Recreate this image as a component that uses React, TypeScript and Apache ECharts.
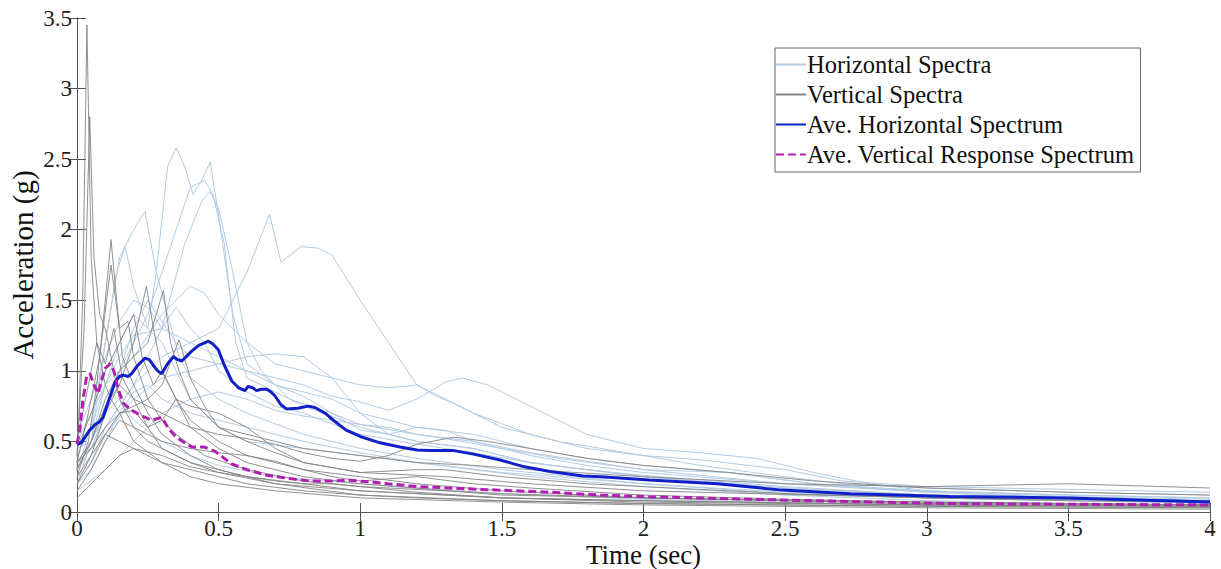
import React, { useEffect, useRef } from "react";
import * as echarts from "echarts";

// x tick values
const xTicks = [0, 0.5, 1, 1.5, 2, 2.5, 3, 3.5, 4];
const yTicks = [0, 0.5, 1, 1.5, 2, 2.5, 3, 3.5];

const legendNames = [
  "Horizontal Spectra",
  "Vertical Spectra",
  "Ave. Horizontal Spectrum",
  "Ave. Vertical Response Spectrum",
];

// Horizontal spectra [period, acceleration]
const hA = [[0,0.3],[0.05,0.5],[0.1,0.9],[0.15,1.2],[0.2,1.4],[0.25,1.3],[0.28,1.7],[0.32,2.45],[0.35,2.58],[0.38,2.45],[0.41,2.25],[0.44,2.35],[0.47,2.48],[0.5,2.1],[0.55,1.4],[0.6,1.05],[0.7,0.9],[0.8,0.85],[0.9,0.8],[1.0,0.7],[1.2,0.6],[1.4,0.55],[1.6,0.45],[1.8,0.38],[2.0,0.33],[2.3,0.28],[2.6,0.2],[3.0,0.15],[3.5,0.12],[4,0.1]];
const hB = [[0,0.35],[0.05,0.45],[0.1,0.7],[0.15,1.0],[0.2,1.2],[0.25,1.4],[0.3,1.7],[0.35,2.0],[0.4,2.3],[0.45,2.35],[0.48,2.25],[0.52,1.9],[0.56,1.2],[0.6,0.95],[0.7,0.85],[0.8,0.75],[1.0,0.6],[1.2,0.5],[1.4,0.45],[1.6,0.35],[2.0,0.25],[2.5,0.17],[3.0,0.12],[3.5,0.09],[4,0.07]];
const hC = [[0,0.25],[0.05,0.35],[0.1,0.6],[0.2,0.9],[0.3,1.3],[0.38,1.9],[0.44,2.2],[0.47,2.27],[0.5,2.15],[0.55,1.7],[0.6,1.2],[0.65,1.0],[0.75,0.8],[0.9,0.7],[1.0,0.62],[1.2,0.55],[1.4,0.5],[1.6,0.42],[1.8,0.36],[2.0,0.3],[2.5,0.2],[3.0,0.14],[3.5,0.1],[4,0.08]];
const hD = [[0,0.4],[0.05,0.6],[0.1,0.9],[0.15,1.1],[0.2,1.25],[0.3,1.3],[0.4,1.2],[0.5,1.3],[0.55,1.5],[0.6,1.7],[0.68,2.11],[0.72,1.77],[0.79,1.88],[0.85,1.87],[0.9,1.82],[1.0,1.5],[1.1,1.2],[1.2,0.9],[1.26,0.83],[1.35,0.75],[1.5,0.6],[1.7,0.5],[2.0,0.4],[2.2,0.33],[2.5,0.25],[2.7,0.2],[3.0,0.17],[3.5,0.14],[4,0.12]];
const hE = [[0,0.3],[0.05,0.6],[0.1,1.2],[0.15,1.8],[0.2,2.0],[0.24,2.13],[0.28,1.7],[0.32,1.4],[0.36,1.1],[0.4,0.95],[0.5,0.8],[0.6,0.7],[0.8,0.55],[1.0,0.45],[1.2,0.38],[1.5,0.3],[2.0,0.2],[2.5,0.13],[3.0,0.1],[3.5,0.08],[4,0.06]];
const hF = [[0,0.2],[0.05,0.5],[0.1,1.2],[0.14,1.7],[0.17,1.88],[0.2,1.6],[0.25,1.3],[0.3,1.2],[0.35,1.0],[0.4,0.8],[0.5,0.6],[0.6,0.5],[0.8,0.45],[1.0,0.4],[1.2,0.35],[1.5,0.28],[2.0,0.2],[2.5,0.14],[3.0,0.1],[3.5,0.08],[4,0.07]];
const hG = [[0,0.5],[0.05,0.7],[0.1,0.9],[0.2,1.1],[0.3,1.4],[0.4,1.6],[0.45,1.55],[0.5,1.4],[0.6,1.2],[0.7,1.05],[0.8,1.0],[0.9,0.95],[1.0,0.9],[1.1,0.88],[1.2,0.9],[1.3,0.8],[1.4,0.7],[1.6,0.55],[1.8,0.45],[2.0,0.4],[2.2,0.37],[2.5,0.3],[2.7,0.22],[3.0,0.18],[3.5,0.16],[4,0.14]];
const hH = [[0,0.3],[0.1,0.6],[0.2,0.9],[0.3,1.1],[0.4,1.2],[0.5,1.1],[0.6,1.0],[0.7,0.95],[0.8,0.9],[0.9,0.82],[1.0,0.78],[1.1,0.72],[1.2,0.8],[1.3,0.92],[1.36,0.95],[1.45,0.9],[1.6,0.75],[1.8,0.55],[2.0,0.45],[2.2,0.42],[2.4,0.38],[2.6,0.28],[2.8,0.2],[3.0,0.15],[3.5,0.12],[4,0.1]];
const hI = [[0,0.45],[0.05,0.5],[0.1,0.7],[0.15,1.0],[0.2,1.3],[0.25,1.5],[0.3,1.35],[0.35,1.2],[0.4,1.1],[0.5,1.05],[0.6,1.0],[0.7,0.9],[0.8,0.82],[0.9,0.7],[1.0,0.58],[1.1,0.55],[1.2,0.6],[1.3,0.58],[1.4,0.5],[1.6,0.4],[1.8,0.33],[2.0,0.28],[2.5,0.2],[3.0,0.15],[3.5,0.11],[4,0.09]];
const hJ = [[0,0.2],[0.05,0.3],[0.1,0.5],[0.15,0.7],[0.2,0.85],[0.25,0.9],[0.3,0.8],[0.4,0.7],[0.5,0.65],[0.6,0.6],[0.7,0.55],[0.8,0.5],[1.0,0.42],[1.2,0.35],[1.4,0.3],[1.6,0.25],[2.0,0.18],[2.5,0.12],[3.0,0.08],[3.5,0.06],[4,0.05]];
const hK = [[0,0.35],[0.1,0.55],[0.2,0.8],[0.3,0.95],[0.4,1.0],[0.5,1.05],[0.6,1.1],[0.7,1.12],[0.8,1.1],[0.9,0.95],[1.0,0.7],[1.1,0.55],[1.2,0.5],[1.4,0.45],[1.6,0.35],[1.8,0.3],[2.0,0.26],[2.5,0.18],[3.0,0.12],[3.5,0.1],[4,0.08]];
const hL = [[0,0.15],[0.1,0.3],[0.2,0.5],[0.3,0.7],[0.4,0.8],[0.5,0.85],[0.6,0.8],[0.7,0.72],[0.8,0.68],[0.9,0.65],[1.0,0.62],[1.1,0.6],[1.2,0.55],[1.3,0.52],[1.5,0.45],[1.7,0.38],[2.0,0.3],[2.3,0.28],[2.6,0.2],[3.0,0.14],[3.5,0.1],[4,0.08]];
const hM = [[0,0.3],[0.05,0.45],[0.1,0.7],[0.15,0.8],[0.2,0.65],[0.3,0.5],[0.4,0.4],[0.5,0.33],[0.7,0.25],[1.0,0.2],[1.5,0.13],[2.0,0.09],[3.0,0.05],[4,0.04]];
const hN = [[0,0.55],[0.05,0.8],[0.1,1.1],[0.15,1.35],[0.2,1.5],[0.25,1.45],[0.3,1.3],[0.35,1.45],[0.4,1.3],[0.45,1.2],[0.5,1.0],[0.6,0.85],[0.7,0.75],[0.8,0.7],[1.0,0.55],[1.2,0.48],[1.4,0.42],[1.6,0.35],[2.0,0.25],[2.5,0.17],[3.0,0.12],[3.5,0.1],[4,0.08]];

// Vertical spectra
const vA = [[0,0.3],[0.02,1.5],[0.035,3.45],[0.05,1.8],[0.07,1.2],[0.1,0.9],[0.12,0.8],[0.15,0.7],[0.2,0.5],[0.3,0.35],[0.4,0.25],[0.5,0.2],[0.7,0.15],[1.0,0.1],[1.5,0.07],[2.0,0.05],[3.0,0.03],[4,0.02]];
const vB = [[0,0.4],[0.025,1.3],[0.045,2.8],[0.06,1.8],[0.08,1.4],[0.1,1.3],[0.12,1.1],[0.15,0.8],[0.2,0.6],[0.25,0.5],[0.3,0.45],[0.4,0.35],[0.5,0.28],[0.7,0.2],[1.0,0.15],[1.5,0.1],[2.0,0.08],[3.0,0.05],[4,0.04]];
const vC = [[0,0.25],[0.04,0.5],[0.07,0.9],[0.1,1.5],[0.12,1.93],[0.14,1.5],[0.16,1.1],[0.2,0.9],[0.25,0.7],[0.3,0.55],[0.4,0.4],[0.5,0.3],[0.7,0.2],[1.0,0.12],[1.5,0.08],[2.0,0.06],[3.0,0.04],[4,0.03]];
const vD = [[0,0.35],[0.04,0.7],[0.08,1.1],[0.12,1.75],[0.15,1.3],[0.18,1.35],[0.2,1.1],[0.25,0.8],[0.3,0.65],[0.35,0.55],[0.45,0.4],[0.6,0.3],[0.8,0.22],[1.0,0.18],[1.5,0.13],[2.0,0.1],[3.0,0.06],[4,0.05]];
const vE = [[0,0.2],[0.05,0.4],[0.1,0.7],[0.15,0.9],[0.2,1.2],[0.245,1.6],[0.27,1.3],[0.3,1.0],[0.35,0.8],[0.4,0.65],[0.5,0.5],[0.6,0.4],[0.8,0.3],[1.0,0.25],[1.2,0.2],[1.5,0.15],[2.0,0.1],[3.0,0.06],[4,0.05]];
const vF = [[0,0.3],[0.05,0.5],[0.1,0.8],[0.15,1.0],[0.2,1.1],[0.25,1.2],[0.305,1.57],[0.33,1.2],[0.36,1.0],[0.4,0.8],[0.5,0.6],[0.6,0.5],[0.7,0.42],[0.8,0.35],[1.0,0.28],[1.3,0.25],[1.6,0.2],[2.0,0.15],[3.0,0.1],[4,0.08]];
const vG = [[0,0.45],[0.05,0.7],[0.1,1.0],[0.15,1.2],[0.2,1.4],[0.23,1.1],[0.27,0.9],[0.3,1.0],[0.35,0.8],[0.4,0.6],[0.5,0.45],[0.6,0.35],[0.8,0.25],[1.0,0.2],[1.5,0.12],[2.0,0.1],[3.0,0.07],[4,0.05]];
const vH = [[0,0.2],[0.05,0.35],[0.1,0.55],[0.15,0.7],[0.2,0.75],[0.25,0.8],[0.3,0.9],[0.36,1.22],[0.4,0.95],[0.45,0.75],[0.5,0.6],[0.6,0.55],[0.7,0.5],[0.8,0.45],[1.0,0.4],[1.2,0.35],[1.4,0.33],[1.6,0.3],[2.0,0.25],[2.5,0.2],[3.0,0.18],[3.5,0.2],[4,0.17]];
const vI = [[0,0.35],[0.05,0.5],[0.1,0.75],[0.15,0.9],[0.2,0.8],[0.3,0.7],[0.4,0.6],[0.5,0.55],[0.6,0.52],[0.7,0.48],[0.8,0.42],[0.9,0.38],[1.0,0.36],[1.1,0.4],[1.2,0.48],[1.33,0.53],[1.45,0.5],[1.6,0.45],[1.8,0.38],[2.0,0.33],[2.3,0.28],[2.6,0.22],[3.0,0.17],[3.5,0.14],[4,0.12]];
const vJ = [[0,0.15],[0.05,0.3],[0.1,0.5],[0.15,0.65],[0.2,0.6],[0.3,0.5],[0.4,0.45],[0.5,0.42],[0.6,0.4],[0.7,0.36],[0.8,0.3],[0.9,0.25],[1.0,0.22],[1.2,0.25],[1.4,0.2],[1.6,0.17],[2.0,0.12],[2.5,0.09],[3.0,0.07],[4,0.05]];
const vK = [[0,0.25],[0.05,0.4],[0.1,0.55],[0.15,0.5],[0.2,0.45],[0.3,0.35],[0.4,0.3],[0.5,0.25],[0.6,0.2],[0.8,0.15],[1.0,0.12],[1.2,0.1],[1.5,0.08],[2.0,0.06],[3.0,0.04],[4,0.03]];
const vL = [[0,0.1],[0.05,0.2],[0.1,0.3],[0.15,0.4],[0.2,0.45],[0.3,0.4],[0.4,0.32],[0.5,0.28],[0.6,0.25],[0.7,0.22],[0.8,0.2],[0.9,0.2],[1.0,0.18],[1.2,0.14],[1.5,0.1],[2.0,0.07],[3.0,0.05],[4,0.04]];
const vM = [[0,0.35],[0.05,0.45],[0.1,0.6],[0.15,0.7],[0.2,0.72],[0.25,0.6],[0.3,0.65],[0.35,0.8],[0.4,0.75],[0.5,0.7],[0.6,0.6],[0.7,0.45],[0.8,0.35],[1.0,0.28],[1.2,0.3],[1.3,0.3],[1.5,0.25],[1.8,0.2],[2.0,0.18],[2.5,0.13],[3.0,0.1],[3.5,0.08],[4,0.07]];
const vN = [[0,0.5],[0.04,0.9],[0.07,1.2],[0.1,1.05],[0.13,1.3],[0.16,0.95],[0.2,0.8],[0.25,0.6],[0.3,0.45],[0.4,0.35],[0.5,0.3],[0.6,0.25],[0.8,0.2],[1.0,0.15],[1.5,0.1],[2.0,0.08],[3.0,0.05],[4,0.04]];

const aveH = [[0,0.48],[0.015,0.49],[0.028,0.53],[0.045,0.58],[0.064,0.62],[0.08,0.64],[0.092,0.67],[0.11,0.78],[0.134,0.92],[0.15,0.96],[0.163,0.97],[0.18,0.96],[0.193,0.98],[0.215,1.04],[0.24,1.09],[0.255,1.08],[0.269,1.04],[0.285,1.0],[0.299,0.98],[0.32,1.05],[0.34,1.1],[0.355,1.08],[0.37,1.07],[0.39,1.11],[0.405,1.14],[0.43,1.18],[0.464,1.21],[0.48,1.19],[0.499,1.15],[0.52,1.04],[0.546,0.93],[0.57,0.88],[0.593,0.86],[0.604,0.89],[0.62,0.88],[0.634,0.86],[0.65,0.87],[0.67,0.87],[0.685,0.85],[0.7,0.82],[0.72,0.76],[0.74,0.73],[0.78,0.735],[0.816,0.75],[0.84,0.74],[0.876,0.7],[0.905,0.65],[0.95,0.58],[1.0,0.535],[1.07,0.49],[1.14,0.46],[1.2,0.44],[1.246,0.435],[1.3,0.435],[1.33,0.435],[1.4,0.41],[1.49,0.37],[1.58,0.32],[1.67,0.287],[1.787,0.255],[1.85,0.25],[2.02,0.227],[2.26,0.2],[2.49,0.155],[2.73,0.13],[3.08,0.11],[3.5,0.1],[4,0.07]];
const aveV = [[0,0.48],[0.01,0.58],[0.02,0.78],[0.034,0.96],[0.046,0.98],[0.06,0.9],[0.075,0.84],[0.085,0.92],[0.1,1.02],[0.117,1.05],[0.13,1.0],[0.145,0.87],[0.164,0.77],[0.193,0.72],[0.23,0.68],[0.264,0.65],[0.3,0.67],[0.32,0.6],[0.35,0.53],[0.405,0.46],[0.45,0.46],[0.487,0.43],[0.52,0.38],[0.546,0.34],[0.6,0.3],[0.67,0.26],[0.758,0.235],[0.82,0.22],[0.9,0.22],[0.964,0.225],[1.05,0.21],[1.2,0.18],[1.43,0.16],[1.67,0.14],[1.85,0.12],[2.02,0.108],[2.49,0.085],[3.08,0.06],[3.5,0.055],[4,0.05]];

const horizontalSet = [hA, hB, hC, hD, hE, hF, hG, hH, hI, hJ, hK, hL, hM, hN];
const verticalSet = [vA, vB, vC, vD, vE, vF, vG, vH, vI, vJ, vK, vL, vM, vN];

const FONT = "'Liberation Serif', 'Times New Roman', serif";

export default function App() {
  const ref = useRef<HTMLDivElement>(null);

  useEffect(() => {
    if (!ref.current) return;
    const chart = echarts.init(ref.current, null, { renderer: "svg" });

    const series: any[] = [];
    horizontalSet.forEach((d) => {
      series.push({
        name: legendNames[0],
        type: "line",
        data: d,
        showSymbol: false,
        symbol: "none",
        lineStyle: { color: "#b3cbe3", width: 1 },
        itemStyle: { color: "#b3cbe3" },
        z: 2,
        silent: true,
      });
    });
    verticalSet.forEach((d) => {
      series.push({
        name: legendNames[1],
        type: "line",
        data: d,
        showSymbol: false,
        symbol: "none",
        lineStyle: { color: "#858585", width: 0.9 },
        itemStyle: { color: "#858585" },
        z: 3,
        silent: true,
      });
    });
    series.push({
      name: legendNames[2],
      type: "line",
      data: aveH,
      showSymbol: false,
      symbol: "none",
      lineStyle: { color: "#1020c8", width: 3 },
      itemStyle: { color: "#1020c8" },
      z: 5,
    });
    series.push({
      name: legendNames[3],
      type: "line",
      data: aveV,
      showSymbol: false,
      symbol: "none",
      lineStyle: { color: "#b020b0", width: 3, type: [8, 4] },
      itemStyle: { color: "#b020b0" },
      z: 6,
    });

    const axisCommon = {
      axisLine: { show: true, lineStyle: { color: "#555", width: 1 } },
      axisTick: { show: true, inside: true, length: 9, lineStyle: { color: "#555" } },
      splitLine: { show: false },
    };

    chart.setOption({
      animation: false,
      backgroundColor: "#fff",
      grid: { left: 77, right: 11, top: 18, bottom: 57, containLabel: false, outerBoundsMode: "none" },
      legend: {
        data: legendNames,
        orient: "vertical",
        left: 775,
        top: 48,
        itemWidth: 30,
        itemHeight: 2,
        itemGap: 5,
        padding: [4, 6, 5, 0],
        borderColor: "#666",
        borderWidth: 1,
        backgroundColor: "#fff",
        itemStyle: { opacity: 0 },
        textStyle: { fontFamily: FONT, fontSize: 24.5, color: "#111", padding: [0, 0, 0, -4] },
        selectedMode: false,
      },
      xAxis: [
        {
          type: "value",
          min: xTicks[0],
          max: xTicks[xTicks.length - 1],
          interval: 0.5,
          name: "Time (sec)",
          nameLocation: "middle",
          nameGap: 29,
          nameMoveOverlap: false,
          nameTextStyle: { fontFamily: FONT, fontSize: 27, color: "#111", lineHeight: 27 },
          axisLabel: { fontFamily: FONT, fontSize: 23, color: "#222", margin: 6, lineHeight: 20 },
          ...axisCommon,
        },
        {
          type: "value",
          position: "top",
          min: xTicks[0],
          max: xTicks[xTicks.length - 1],
          interval: 0.5,
          axisLabel: { show: false },
          ...axisCommon,
        },
      ],
      yAxis: [
        {
          type: "value",
          min: yTicks[0],
          max: yTicks[yTicks.length - 1],
          interval: 0.5,
          name: "Acceleration (g)",
          nameLocation: "middle",
          nameGap: 40,
          nameMoveOverlap: false,
          nameTextStyle: { fontFamily: FONT, fontSize: 29, color: "#111" },
          axisLabel: { fontFamily: FONT, fontSize: 23, color: "#222", margin: 5 },
          ...axisCommon,
        },
        {
          type: "value",
          position: "right",
          min: yTicks[0],
          max: yTicks[yTicks.length - 1],
          interval: 0.5,
          axisLabel: { show: false },
          ...axisCommon,
        },
      ],
      series,
    });

    return () => chart.dispose();
  }, []);

  return (
    <div
      ref={ref}
      style={{ position: "fixed", left: 0, top: 0, width: 1221, height: 569, background: "#fff" }}
    />
  );
}
